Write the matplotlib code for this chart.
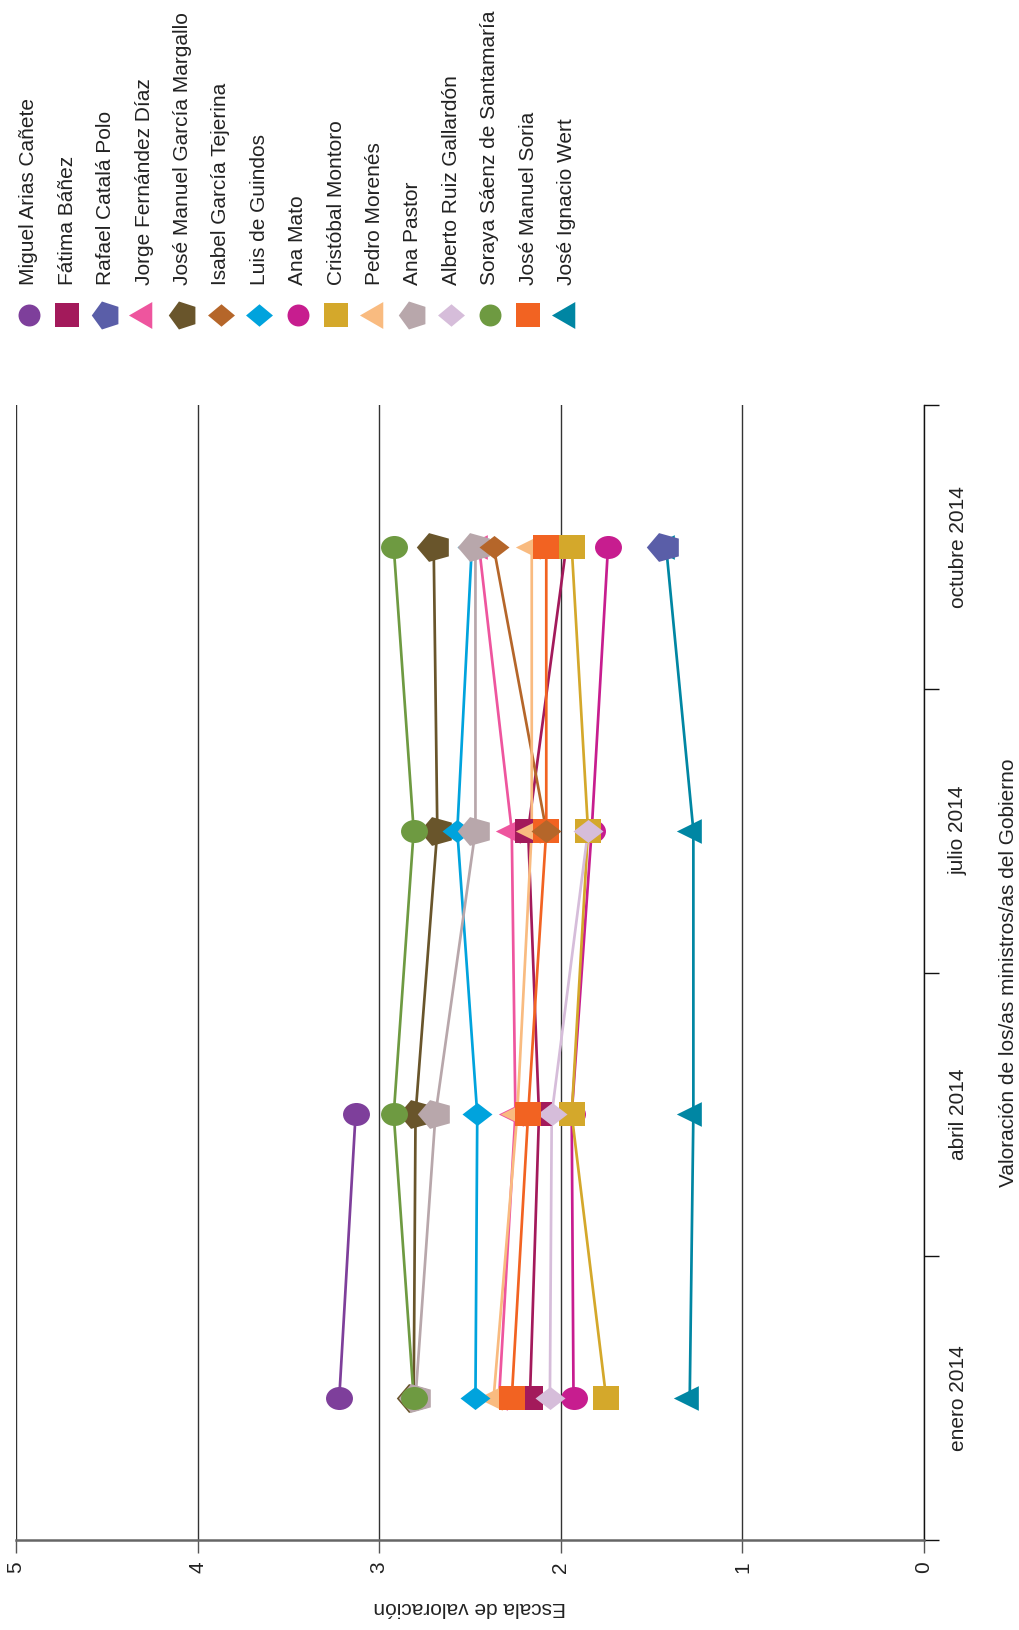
import numpy as np
import matplotlib
matplotlib.use("Agg")
import matplotlib.pyplot as plt
from matplotlib.path import Path
from matplotlib.transforms import Affine2D

plt.rcParams['font.family'] = ['Liberation Sans', 'DejaVu Sans']

nan = np.nan

fechas = ['enero 2014', 'abril 2014', 'julio 2014', 'octubre 2014']

# valoraciones por ministro (enero, abril, julio, octubre)
ministros = [
    'Miguel Arias Cañete', 'Fátima Báñez', 'Rafael Catalá Polo',
    'Jorge Fernández Díaz', 'José Manuel García Margallo',
    'Isabel García Tejerina', 'Luis de Guindos', 'Ana Mato',
    'Cristóbal Montoro', 'Pedro Morenés', 'Ana Pastor',
    'Alberto Ruiz Gallardón', 'Soraya Sáenz de Santamaría',
    'José Manuel Soria', 'José Ignacio Wert',
]
arias_canete = [3.22, 3.13, nan, nan]
banez = [2.17, 2.12, 2.18, 1.97]
catala = [nan, nan, nan, 1.43]
fernandez_diaz = [2.34, 2.25, 2.27, 2.45]
garcia_margallo = [2.81, 2.80, 2.68, 2.70]
garcia_tejerina = [nan, nan, 2.08, 2.37]
guindos = [2.47, 2.46, 2.57, 2.49]
mato = [1.93, 1.94, 1.83, 1.74]
montoro = [1.75, 1.94, 1.85, 1.94]
morenes = [2.37, 2.24, 2.16, 2.16]
pastor = [2.80, 2.69, 2.47, 2.47]
ruiz_gallardon = [2.06, 2.05, 1.85, nan]
saenz_santamaria = [2.81, 2.92, 2.81, 2.92]
soria = [2.27, 2.18, 2.08, 2.08]
wert = [1.29, 1.27, 1.27, 1.42]

valores = [arias_canete, banez, catala, fernandez_diaz, garcia_margallo,
           garcia_tejerina, guindos, mato, montoro, morenes, pastor,
           ruiz_gallardon, saenz_santamaria, soria, wert]

colores = ['#7E3F9B', '#A31A5B', '#5A5EA8', '#EE559E', '#69552B',
           '#B5662A', '#00A3DD', '#C71D8F', '#D4A82B', '#F9BB80',
           '#B8A7AB', '#D6BDDA', '#6E9A41', '#F26322', '#0086A3']
formas = ['circle', 'square', 'pentagon', 'triangle', 'pentagon',
          'diamond', 'diamond', 'circle', 'square', 'triangle',
          'pentagon', 'diamond', 'circle', 'square', 'triangle']

# orden de dibujo de los puntos (los de delante al final)
orden = [14, 2, 0, 3, 1, 9, 7, 8, 11, 13, 4, 6, 10, 5, 12]


def forma(tipo, sx):
    if tipo == 'circle':
        p = Path.unit_circle()
    elif tipo == 'square':
        p = Affine2D().translate(-0.5, -0.5).transform_path(Path.unit_rectangle())
    elif tipo == 'pentagon':
        p = Affine2D().rotate_deg(90).transform_path(Path.unit_regular_polygon(5))
    elif tipo == 'triangle':
        p = Affine2D().rotate_deg(90).transform_path(Path.unit_regular_polygon(3))
    else:
        p = Path.unit_regular_polygon(4)
    return Affine2D().scale(sx, 1).transform_path(p)


estiro = {'circle': 1.17, 'square': 1.17, 'pentagon': 1.17, 'triangle': 1.17, 'diamond': 1.3}
tam = {'circle': 19.4, 'square': 19.4, 'pentagon': 25.5, 'triangle': 24, 'diamond': 21.6}
estiro_ley = {'circle': 1.0, 'square': 1.0, 'pentagon': 1.0, 'triangle': 1.0, 'diamond': 1.2}
tam_ley = {'circle': 15.8, 'square': 16.6, 'pentagon': 21.2, 'triangle': 22.4, 'diamond': 19.4}

W, H = 1019, 1630
fig = plt.figure(figsize=(W / 100, H / 100), dpi=100)
ax = fig.add_axes([16 / W, (H - 1540) / H, (924 - 16) / W, (1540 - 405) / H])

pos = np.arange(len(fechas))

for i in range(len(ministros)):
    ax.plot(valores[i], pos, color=colores[i], lw=1.95, zorder=2)
for i in orden:
    ax.plot(valores[i], pos, linestyle='none', marker=forma(formas[i], estiro[formas[i]]),
            markersize=tam[formas[i]], color=colores[i], markeredgewidth=0, zorder=3)

ax.set_xlim(5, 0)
ax.set_ylim(-0.5, 3.5)
ax.set_xticks(range(6))
ax.grid(axis='x', color='#333333', lw=1.0, zorder=1)
ax.set_axisbelow(True)

for s in ['top', 'left']:
    ax.spines[s].set_visible(False)
ax.spines['right'].set_color('#111111')
ax.spines['right'].set_linewidth(1.0)
ax.spines['bottom'].set_color('#666666')
ax.spines['bottom'].set_linewidth(1.8)

ax.tick_params(axis='x', direction='out', length=9.4, width=1.0, color='#555555',
               labelsize=15, labelcolor='#222222', labelrotation=90, pad=6)
ax.set_xlabel('Escala de valoración', fontsize=15, color='#222222', rotation=180, labelpad=18)

ax.yaxis.tick_right()
ax.yaxis.set_label_position('right')
ax.set_yticks(pos, fechas)
ax.set_yticks([-0.5, 0.5, 1.5, 2.5, 3.5], minor=True)
ax.tick_params(axis='y', which='major', length=0, labelsize=15, labelcolor='#222222',
               labelrotation=90, pad=18)
ax.tick_params(axis='y', which='minor', length=10.8, width=1.0, color='#111111')
for t in ax.get_yticklabels():
    t.set_va('center')
ax.set_ylabel('Valoración de los/as ministros/as del Gobierno', fontsize=15,
              color='#222222', rotation=90, labelpad=22)

# leyenda
lax = fig.add_axes([0, 0, 1, 1])
lax.set_xlim(0, W)
lax.set_ylim(H, 0)
lax.axis('off')
for i, nombre in enumerate(ministros):
    x = 29 + 38.4 * i
    lax.plot([x], [315], linestyle='none',
             marker=forma(formas[i], estiro_ley[formas[i]]),
             markersize=tam_ley[formas[i]], color=colores[i], markeredgewidth=0)
    lax.text(x, 285, nombre, rotation=90, ha='center', va='bottom',
             fontsize=15, color='#222222')

fig.savefig('out.png', dpi=100)
